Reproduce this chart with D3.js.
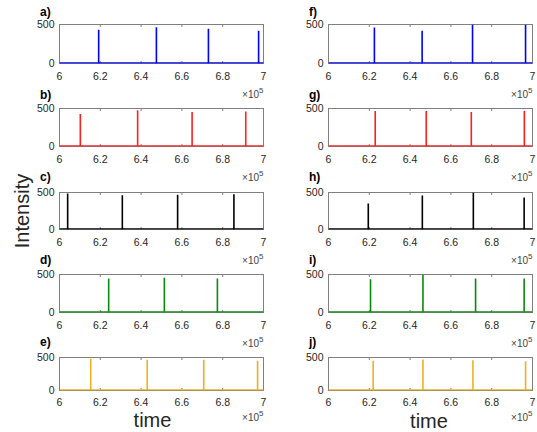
<!DOCTYPE html>
<meta charset="utf-8">
<html>
<head>
    <script src="https://d3js.org/d3.v7.min.js"></script>
    <style>
        body { margin: 0; background: white; }
        text { font-family: "Liberation Sans", Arial, Helvetica, sans-serif; }
    </style>
</head>
<body>
    <script>

        // panel letters, left column then right column
        const panelNames = ["a)", "b)", "c)", "d)", "e)", "f)", "g)", "h)", "i)", "j)"];

        // spike positions (x 10^5) and peak intensities
        const peaksA = [[6.192, 434], [6.475, 464], [6.730, 447], [6.976, 421]];
        const peaksB = [[6.102, 428], [6.383, 477], [6.650, 455], [6.913, 459]];
        const peaksC = [[6.040, 486], [6.308, 463], [6.579, 468], [6.855, 477]];
        const peaksD = [[6.241, 448], [6.514, 456], [6.774, 448]];
        const peaksE = [[6.153, 480], [6.430, 465], [6.707, 465], [6.971, 450]];
        const peaksF = [[6.225, 460], [6.459, 421], [6.706, 500], [6.966, 500]];
        const peaksG = [[6.229, 468], [6.479, 468], [6.700, 455], [6.960, 468]];
        const peaksH = [[6.195, 351], [6.460, 460], [6.710, 500], [6.959, 432]];
        const peaksI = [[6.206, 439], [6.463, 500], [6.721, 448], [6.959, 448]];
        const peaksJ = [[6.219, 450], [6.463, 470], [6.708, 460], [6.966, 445]];

        const xTicks = [6, 6.2, 6.4, 6.6, 6.8, 7];
        const yTicks = [0, 500];
        const xDomain = [6, 7];
        const yDomain = [0, 500];

        const allPeaks = [peaksA, peaksB, peaksC, peaksD, peaksE,
                          peaksF, peaksG, peaksH, peaksI, peaksJ];

        // line colours per row (MATLAB-ish)
        const rowColors = ["#0000ff", "#ff2020", "#000000", "#0a8a0a", "#edb120"];

        const width = 537, height = 432;

        // layout of the subplot grid
        const cols = [
            { x0: 59.5, x1: 263.5, labelX: 40 },
            { x0: 328.5, x1: 532.5, labelX: 309 }
        ];
        const rowTop = [24.5, 108.5, 192.5, 274.5, 357.5];
        const rowBottom = [63.5, 146.5, 229.5, 312.5, 390.5];
        const tickDy = [16.5, 16.5, 16.5, 16.5, 15];
        const expDy = [34, 34, 34, 34, 30.5];

        const svg = d3.select('body')
            .append('svg')
            .attr('width', width)
            .attr('height', height);

        const axisColor = '#808080';
        const textColor = '#262626';

        allPeaks.forEach((peaks, i) => {
            const c = cols[Math.floor(i / 5)];
            const r = i % 5;
            const top = rowTop[r], bottom = rowBottom[r];

            const x = d3.scaleLinear().domain(xDomain).range([c.x0, c.x1]);
            const y = d3.scaleLinear().domain(yDomain).range([bottom, top]);

            const g = svg.append('g');

            // clip to the plotting box
            const clipId = 'clip' + i;
            g.append('clipPath').attr('id', clipId)
                .append('rect')
                .attr('x', c.x0).attr('y', top)
                .attr('width', c.x1 - c.x0).attr('height', bottom - top);

            // box
            g.append('rect')
                .attr('x', c.x0).attr('y', top)
                .attr('width', c.x1 - c.x0).attr('height', bottom - top)
                .attr('fill', 'none')
                .attr('stroke', axisColor)
                .attr('stroke-width', 1);

            // inward tick marks top and bottom
            xTicks.forEach(t => {
                g.append('line')
                    .attr('x1', x(t)).attr('x2', x(t))
                    .attr('y1', bottom).attr('y2', bottom - 2.5)
                    .attr('stroke', axisColor);
                g.append('line')
                    .attr('x1', x(t)).attr('x2', x(t))
                    .attr('y1', top).attr('y2', top + 2.5)
                    .attr('stroke', axisColor);
            });

            // x tick labels
            g.selectAll('text.xt')
                .data(xTicks)
                .enter()
                .append('text')
                .attr('class', 'xt')
                .attr('x', d => x(d))
                .attr('y', bottom + tickDy[r])
                .attr('text-anchor', 'middle')
                .style('font-size', '10.5px')
                .style('fill', textColor)
                .text(d => d3.format('~g')(d));

            // y tick labels
            g.selectAll('text.yt')
                .data(yTicks)
                .enter()
                .append('text')
                .attr('class', 'yt')
                .attr('x', c.x0 - 5)
                .attr('y', d => y(d))
                .attr('dy', '0.35em')
                .attr('text-anchor', 'end')
                .style('font-size', '10.5px')
                .style('fill', textColor)
                .text(d => d);

            // x10^5 exponent
            const ex = g.append('text')
                .attr('x', c.x1)
                .attr('y', bottom + expDy[r])
                .attr('text-anchor', 'end')
                .style('font-size', '10px')
                .style('fill', '#444');
            ex.append('tspan').text('\u00d710');
            ex.append('tspan').attr('dy', -5).style('font-size', '8px').text('5');

            // data: baseline plus spikes
            const color = rowColors[r];
            const plot = g.append('g').attr('clip-path', `url(#${clipId})`);

            plot.append('path')
                .datum(xDomain.map(d => [d, 0]))
                .attr('d', d3.line().x(d => x(d[0])).y(d => y(d[1]) - 0.5))
                .attr('stroke', color)
                .attr('stroke-width', 1.5)
                .attr('fill', 'none');

            plot.selectAll('line.spike')
                .data(peaks)
                .enter()
                .append('line')
                .attr('class', 'spike')
                .attr('x1', d => x(d[0])).attr('x2', d => x(d[0]))
                .attr('y1', y(0)).attr('y2', d => y(d[1]))
                .attr('stroke', color)
                .attr('stroke-width', 1.6);

            // panel letter
            g.append('text')
                .attr('x', c.labelX)
                .attr('y', 16 + 82.5 * r)
                .style('font-size', '12px')
                .style('font-weight', 'bold')
                .style('fill', '#000')
                .text(panelNames[i]);
        });

        // axis titles
        svg.append('text')
            .attr('transform', 'translate(28.5,211) rotate(-90)')
            .attr('text-anchor', 'middle')
            .style('font-size', '20px')
            .style('fill', textColor)
            .text('Intensity');

        svg.append('text')
            .attr('x', (cols[0].x0 + cols[0].x1) / 2 - 9)
            .attr('y', 427)
            .attr('text-anchor', 'middle')
            .style('font-size', '20px')
            .style('fill', textColor)
            .text('time');

        svg.append('text')
            .attr('x', (cols[1].x0 + cols[1].x1) / 2 - 1.5)
            .attr('y', 428)
            .attr('text-anchor', 'middle')
            .style('font-size', '20px')
            .style('fill', textColor)
            .text('time');

    </script>
</body>
</html>
